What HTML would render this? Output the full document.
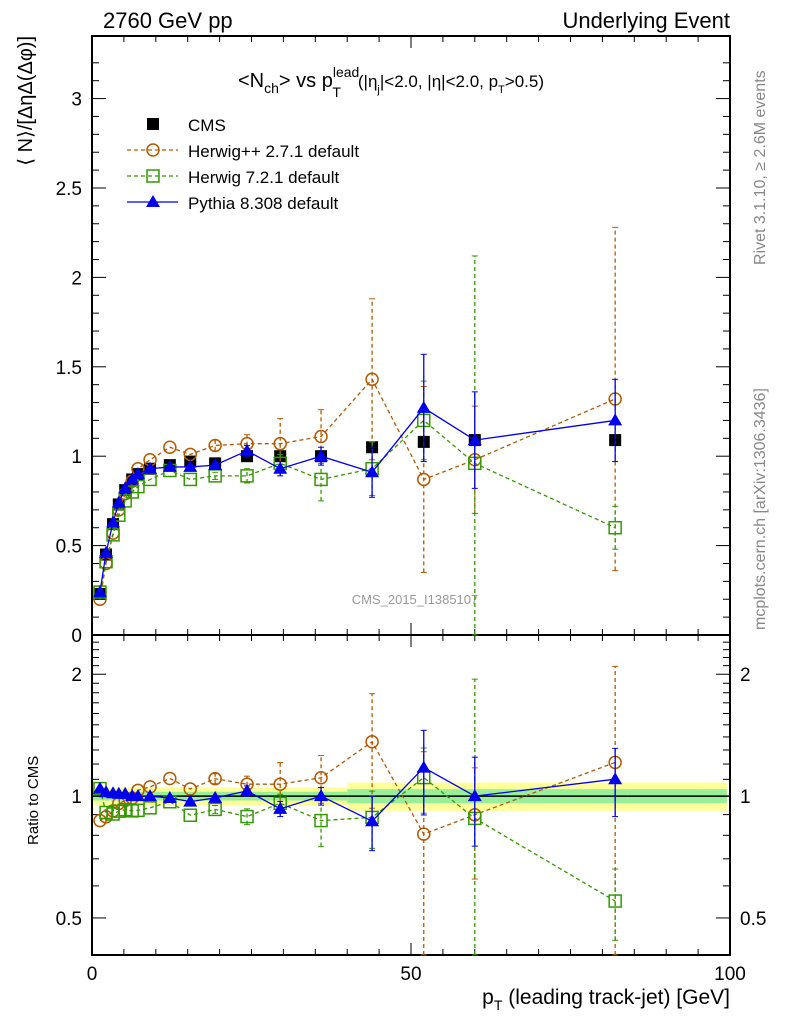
<!DOCTYPE html>
<html><head><meta charset="utf-8"><style>
body{margin:0;background:#fff;}
svg{font-family:"Liberation Sans",sans-serif;}
</style></head><body>
<svg id="c" width="786" height="1024" xmlns="http://www.w3.org/2000/svg">
<text x="103" y="28" font-size="22">2760 GeV pp</text>
<text x="730" y="28" font-size="22" text-anchor="end">Underlying Event</text>
<text x="238" y="87" font-size="20">&lt;N<tspan font-size="14" dy="6">ch</tspan><tspan dy="-6">&gt; vs p</tspan><tspan font-size="14" dy="-10">lead</tspan><tspan font-size="14" dx="-27" dy="20">T</tspan><tspan font-size="17" dx="17" dy="-10">(|η</tspan><tspan font-size="11" dy="6">j</tspan><tspan font-size="17" dy="-6">|&lt;2.0, |η|&lt;2.0, p</tspan><tspan font-size="11" dy="6">T</tspan><tspan font-size="17" dy="-6">&gt;0.5)</tspan></text>
<text transform="translate(765,265) rotate(-90)" font-size="16" fill="#888">Rivet 3.1.10, ≥ 2.6M events</text>
<text transform="translate(765,630) rotate(-90)" font-size="16" fill="#888">mcplots.cern.ch [arXiv:1306.3436]</text>
<text x="415" y="604" font-size="13" fill="#999" text-anchor="middle">CMS_2015_I1385107</text>
<text transform="translate(32,36) rotate(-90)" font-size="20" text-anchor="end">⟨ N⟩/[ΔηΔ(Δφ)]</text>
<text transform="translate(38,845) rotate(-90)" font-size="15" text-anchor="start">Ratio to CMS</text>
<text x="730" y="1004" font-size="21" text-anchor="end">p<tspan font-size="14" dy="6">T</tspan><tspan dy="-6"> (leading track-jet) [GeV]</tspan></text>
<g id="g"></g>
</svg>
<script>
const xs=[1.25,2.2,3.3,4.2,5.2,6.3,7.2,9.1,12.2,15.4,19.3,24.3,29.5,35.9,43.9,52.0,60.0,82.0];
const cms=[0.23,0.45,0.62,0.73,0.81,0.87,0.90,0.93,0.95,0.97,0.96,1.00,1.00,1.00,1.05,1.08,1.09,1.09];
const hpp=[0.20,0.40,0.57,0.70,0.79,0.86,0.93,0.98,1.05,1.01,1.06,1.07,1.07,1.11,1.43,0.87,0.98,1.32];
const hppErr=[0,0,0,0,0,0,0,0,0,0,0.03,0.05,0.14,0.15,0.45,0.52,0.3,0.96];
const h7=[0.24,0.41,0.56,0.67,0.75,0.80,0.83,0.87,0.92,0.87,0.89,0.89,0.96,0.87,0.93,1.20,0.96,0.60];
const h7Err=[0,0,0,0,0,0,0,0,0,0,0.02,0.04,0.05,0.12,0.15,0.22,1.16,0.12];
const py=[0.24,0.46,0.63,0.74,0.82,0.87,0.90,0.93,0.94,0.94,0.95,1.03,0.93,1.00,0.91,1.27,1.09,1.20];
const pyErr=[0,0,0,0,0,0,0,0,0,0,0.01,0.03,0.04,0.05,0.14,0.30,0.27,0.23];
const yTicks=[0,0.5,1,1.5,2,2.5,3];
const rTicks=[0.5,1,2];
const xTicks=[0,50,100];
const NS="http://www.w3.org/2000/svg";
const g=document.getElementById('g');
const L=92,R=730,T=36,M=635,B=955;
const X=v=>L+(R-L)*v/100;
const Y=v=>M-(M-T)*v/3.35;
const rLo=Math.log(0.405),rHi=Math.log(2.5);
const RY=v=>{v=Math.max(v,0.3);return B-(B-M)*(Math.log(v)-rLo)/(rHi-rLo);};
function el(t,a,p){const e=document.createElementNS(NS,t);for(const k in a)e.setAttribute(k,a[k]);(p||g).appendChild(e);return e;}
const bandX=[0,40,84,100];
const bandY=[0.05,0.08,0.08];const bandG=[0.025,0.04,0.04];
for(let i=0;i<3;i++){
 const x1=X(Math.max(bandX[i],0)),x2=X(Math.min(bandX[i+1],99.5));
 const b=el('rect',{x:x1,y:RY(1+bandY[i]),width:x2-x1,height:RY(1-bandY[i])-RY(1+bandY[i]),fill:'#ffff99'});
 
 const c=el('rect',{x:x1,y:RY(1+bandG[i]),width:x2-x1,height:RY(1-bandG[i])-RY(1+bandG[i]),fill:'#99ee99'});
 
}
el('line',{x1:L,x2:R,y1:RY(1),y2:RY(1),stroke:'#000','stroke-width':1.5});
for(const [t,b] of [[T,M],[M,B]]){
 const f=el('rect',{x:L,y:t,width:R-L,height:b-t,fill:'none',stroke:'#000','stroke-width':2});
 
}
for(let v=0;v<=100;v+=5){
 const big=v%50==0, len=big?12:6, x=X(v);
 for(const [t,b] of [[T,M],[M,B]]){
  el('line',{x1:x,x2:x,y1:b,y2:b-len,stroke:'#000'});
  el('line',{x1:x,x2:x,y1:t,y2:t+len,stroke:'#000'});
 }
}
xTicks.forEach(v=>{const t=el('text',{x:X(v),y:980,'font-size':19,'text-anchor':'middle'});t.textContent=v;
 });
for(let v=0;v<=3.3;v+=0.1){const big=Math.abs(v*2-Math.round(v*2))<1e-6;const len=big?14:7;const y=Y(v);
 el('line',{x1:L,x2:L+len,y1:y,y2:y,stroke:'#000'});el('line',{x1:R,x2:R-len,y1:y,y2:y,stroke:'#000'});}
yTicks.forEach(v=>{const t=el('text',{x:82,y:Y(v)+7,'font-size':19,'text-anchor':'end'});t.textContent=v;
 });
for(let v=0.5;v<=2.5;v+=0.1){const big=[0.5,1,2].some(b=>Math.abs(b-v)<1e-6);const len=big?14:7;const y=RY(v);
 el('line',{x1:L,x2:L+len,y1:y,y2:y,stroke:'#000'});el('line',{x1:R,x2:R-len,y1:y,y2:y,stroke:'#000'});}
rTicks.forEach(v=>{for(const [x,a] of [[82,'end'],[740,'start']]){const t=el('text',{x:x,y:RY(v)+7,'font-size':19,'text-anchor':a});t.textContent=v;
 }});
function marker(type,x,y,col,name){
 let m;
 if(type=='circ')m=el('circle',{cx:x,cy:y,r:6,fill:'none',stroke:col,'stroke-width':1.5});
 else if(type=='sq')m=el('rect',{x:x-6,y:y-6,width:12,height:12,fill:'none',stroke:col,'stroke-width':1.5});
 else if(type=='fsq')m=el('rect',{x:x-6,y:y-6,width:12,height:12,fill:col});
 else m=el('path',{d:`M${x},${y-7}L${x+7},${y+5}L${x-7},${y+5}Z`,fill:col});
 
}
function series(vals,errs,col,dash,type,name,ratio){
 const Yf=ratio?RY:Y;
 const v=ratio?vals.map((a,i)=>a/cms[i]):vals;
 const e=ratio?errs.map((a,i)=>a/cms[i]):errs;
 const p=el('polyline',{points:v.map((a,i)=>X(xs[i])+','+Yf(a)).join(' '),fill:'none',stroke:col,'stroke-width':1.3,'stroke-dasharray':dash});
 
 v.forEach((a,i)=>{if(e[i]>0){const x=X(xs[i]);const y1=Math.min(Yf(a-e[i]),ratio?B:M),y2=Math.max(Yf(a+e[i]),ratio?M:T);
  el('line',{x1:x,x2:x,y1:y1,y2:y2,stroke:col,'stroke-width':1.3,'stroke-dasharray':dash});
  el('line',{x1:x-3,x2:x+3,y1:y1,y2:y1,stroke:col});el('line',{x1:x-3,x2:x+3,y1:y2,y2:y2,stroke:col});}
  marker(type,X(xs[i]),Yf(a),col,name+'-point');});
}
cms.forEach((a,i)=>marker('fsq',X(xs[i]),Y(a),'#000','cms-point'));
for(const r of [false,true]){
 series(hpp,hppErr,'#b35900','4,3','circ','herwigpp',r);
 series(h7,h7Err,'#339900','4,3','sq','herwig7',r);
 series(py,pyErr,'#0000ee','','tri','pythia',r);
}
const leg=[['CMS','#000','','fsq'],['Herwig++ 2.7.1 default','#b35900','4,3','circ'],['Herwig 7.2.1 default','#339900','4,3','sq'],['Pythia 8.308 default','#0000ee','','tri']];
leg.forEach((l,i)=>{const y=124+i*26;
 if(i>0){el('line',{x1:127,x2:178,y1:y,y2:y,stroke:l[1],'stroke-width':1.3,'stroke-dasharray':l[2]});}
 marker(l[3],153,y,l[1],'legend-marker');
 const t=el('text',{x:188,y:y+7,'font-size':17});t.textContent=l[0];
 });
</script>
</body></html>
